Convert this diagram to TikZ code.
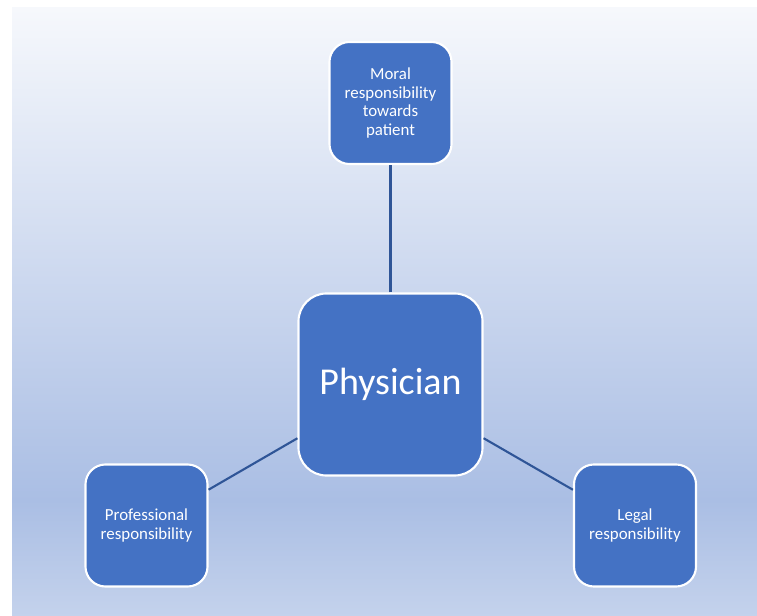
\documentclass[tikz,border=0pt]{standalone}
\usepackage{fontspec}
\setmainfont{Carlito}
\definecolor{bgTop}{RGB}{246,248,252}
\definecolor{bgMid}{RGB}{170,190,228}
\definecolor{bgBot}{RGB}{196,210,236}
\definecolor{boxBlue}{RGB}{68,114,196}
\definecolor{linkBlue}{RGB}{47,85,151}

\begin{document}
\begin{tikzpicture}[x=0.025cm,y=-0.025cm,
	box/.style={draw=white,line width=1.5pt,fill=boxBlue,rounded corners=0.5cm,text=white,align=center,
		minimum width=3.05cm,minimum height=3.05cm,inner sep=2pt,font=\fontsize{12}{13.5}\selectfont},
	bigbox/.style={box,minimum width=4.6cm,minimum height=4.55cm,rounded corners=0.7cm,font=\fontsize{27}{32}\selectfont},
	link/.style={draw=linkBlue,line width=1.5pt}]
	\useasboundingbox (0,0) rectangle (757,616);
	% background
	\shade[top color=bgTop,bottom color=bgMid] (12,8) rectangle (757,500.5);
	\shade[top color=bgMid,bottom color=bgBot] (12,500) rectangle (757,616);
	
	\node[bigbox] (physician) at (390.5,384.5) {Physician};
	\node[box] (moral) at (390.5,103) {Moral\\responsibility\\towards\\patient};
	\node[box] (professional) at (146.5,525.5) {Professional\\responsibility};
	\node[box] (legal) at (635,525.5) {Legal\\responsibility};
	
	\draw[link] (physician) -- (moral);
	\draw[link] (physician) -- (professional);
	\draw[link] (physician) -- (legal);
\end{tikzpicture}
\end{document}
